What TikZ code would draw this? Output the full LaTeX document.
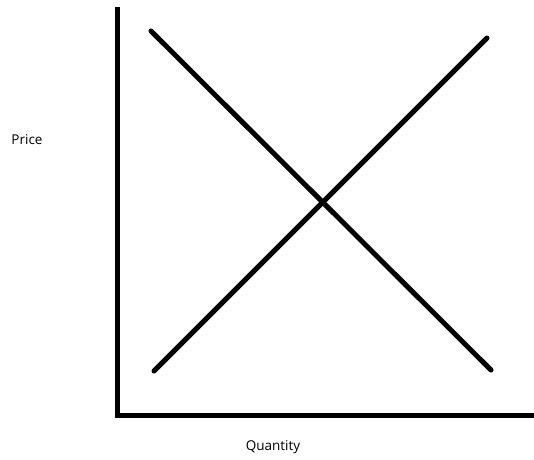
\documentclass[tikz,border=0pt]{standalone}
\usepackage{fontspec}
\setmainfont{Open Sans}
\usetikzlibrary{positioning}

\begin{document}
\begin{tikzpicture}[x=1pt,y=-1pt]
    \useasboundingbox (0,0) rectangle (534,459);
    \tikzset{axisline/.style={line width=5pt},
             curveline/.style={line width=5pt,line cap=round},
             axislabel/.style={font=\fontsize{13.5}{16}\selectfont,inner sep=0pt}}

    % axes
    \coordinate (origin) at (117,415);
    \coordinate (ytop) at (117,7);
    \coordinate (xend) at (534,415);
    \draw[axisline] (ytop) -- (origin) -- (xend);
    \node[axislabel] (price) at (27,140) {Price};
    \node[axislabel] (quantity) at (273,447) {Quantity};

    % demand and supply
    \coordinate (dtop) at (151,31);
    \coordinate (dbot) at (491,370);
    \coordinate (sbot) at (154,371);
    \coordinate (stop) at (487,38);
    \draw[curveline] (dtop) -- (dbot);
    \draw[curveline] (sbot) -- (stop);
\end{tikzpicture}
\end{document}
